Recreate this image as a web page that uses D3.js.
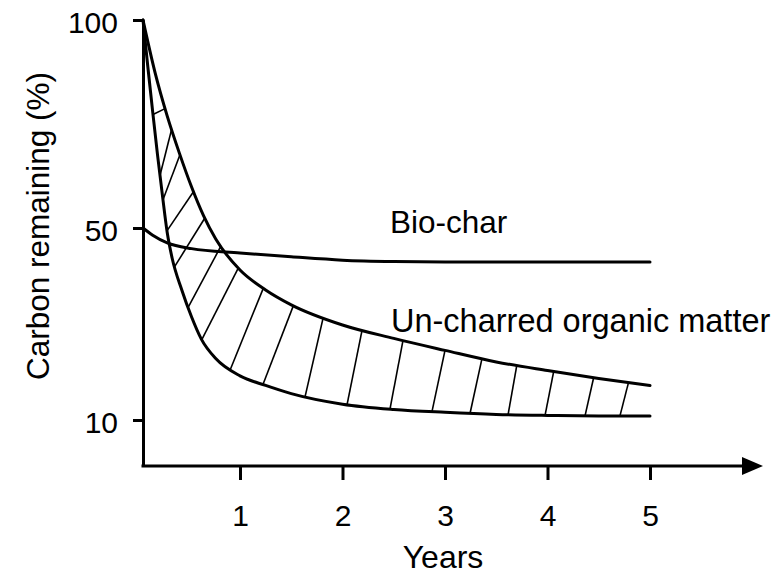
<!DOCTYPE html>
<html>
<head>
<meta charset="utf-8">
<script src="https://cdn.jsdelivr.net/npm/d3@7"></script>
<style>
  body { margin: 0; background: #fff; }
  text { font-family: "Liberation Sans", Arial, Helvetica, sans-serif; fill: #000; }
</style>
</head>
<body>
<script>
// values (years, % carbon remaining)
const upperYears = [0, 0.125, 0.25, 0.375, 0.5, 0.625, 0.75, 1, 1.25, 1.5, 2, 2.5, 3, 3.5, 4, 4.5, 5];
const upperValues = [100, 87.3, 76.9, 68.0, 59.9, 52.9, 47.7, 41.25, 37.1, 34.0, 29.8, 27.0, 24.5, 22.1, 20.3, 18.65, 17.2];

const lowerYears = [0, 0.05, 0.1, 0.15, 0.2, 0.25, 0.3, 0.4, 0.5, 0.6, 0.75, 1, 1.25, 1.5, 2, 2.5, 3, 3.5, 4, 4.5, 5];
const lowerValues = [100, 88.7, 77.9, 67.5, 57.9, 49.0, 43.75, 37.1, 31.5, 26.9, 22.8, 19.2, 17.2, 15.5, 13.3, 12.2, 11.6, 11.15, 10.95, 10.85, 10.85];

const charYears = [0, 0.1, 0.25, 0.5, 1, 1.5, 2, 2.5, 3, 4, 5];
const charValues = [50, 48.5, 46.9, 45.7, 44.8, 44.0, 43.3, 43.0, 42.9, 42.9, 42.9];

// hatching: each stroke runs from the lower curve to the upper curve
const hatchLowYears = [0.103, 0.175, 0.206, 0.247, 0.323, 0.464, 0.605, 0.897, 1.224, 1.634, 2.044, 2.463, 2.873, 3.244, 3.615, 3.976, 4.366, 4.707];
const hatchHighYears = [0.227, 0.294, 0.381, 0.52, 0.636, 0.8, 0.982, 1.227, 1.52, 1.81, 2.19, 2.59, 3.0, 3.36, 3.7, 4.06, 4.45, 4.79];

const xTicks = [1, 2, 3, 4, 5];
const yTicks = [10, 50, 100];
const xTitle = "Years";
const yTitle = "Carbon remaining (%)";
const charLabel = "Bio-char";
const organicLabel = "Un-charred organic matter";

(function app() {
  const W = 778, H = 576;

  let svg = d3.select("body").append("svg")
    .attr("width", W)
    .attr("height", H);

  // the sketch is not evenly spaced, so both scales are piecewise
  let x = d3.scaleLinear().domain([0, 1, 5]).range([143, 240, 650]);
  let y = d3.scaleLinear().domain([0, 10, 50, 100]).range([466, 420, 228, 20]);

  let line = d3.line()
    .x(d => x(d[0]))
    .y(d => y(d[1]))
    .curve(d3.curveMonotoneX);

  let hatchG = svg.append("g").attr("class", "hatch");
  let curves = svg.append("g").attr("class", "curves");

  let upper = curves.append("path")
    .attr("d", line(upperYears.map((t, i) => [t, upperValues[i]])));
  let lower = curves.append("path")
    .attr("d", line(lowerYears.map((t, i) => [t, lowerValues[i]])));
  curves.append("path")
    .attr("d", line(charYears.map((t, i) => [t, charValues[i]])));

  curves.selectAll("path")
    .attr("fill", "none")
    .attr("stroke", "#000")
    .attr("stroke-width", 3)
    .attr("stroke-linecap", "round");

  // find the y of a path at a given x
  function yOnPath(node, px) {
    let lo = 0, hi = node.getTotalLength();
    for (let i = 0; i < 40; i++) {
      let mid = (lo + hi) / 2;
      if (node.getPointAtLength(mid).x < px) lo = mid;
      else hi = mid;
    }
    return node.getPointAtLength((lo + hi) / 2).y;
  }

  hatchG.selectAll("line")
    .data(hatchLowYears)
    .enter()
    .append("line")
    .attr("x1", d => x(d))
    .attr("y1", d => yOnPath(lower.node(), x(d)))
    .attr("x2", (d, i) => x(hatchHighYears[i]))
    .attr("y2", (d, i) => yOnPath(upper.node(), x(hatchHighYears[i])))
    .attr("stroke", "#000")
    .attr("stroke-width", 1.6);

  // axes
  let xAxis = d3.axisBottom(x)
    .tickValues(xTicks)
    .tickFormat(d3.format("d"))
    .tickSizeInner(14)
    .tickSizeOuter(0)
    .tickPadding(25);
  let gx = svg.append("g")
    .attr("class", "axis x")
    .attr("transform", `translate(0,${y(0)})`)
    .call(xAxis);
  gx.select(".domain").remove();
  gx.selectAll(".tick line").attr("stroke-width", 3);
  gx.selectAll(".tick text").attr("font-size", 30).attr("font-family", null);

  gx.append("line")
    .attr("x1", x(0) - 1.5)
    .attr("x2", 744)
    .attr("y1", 0)
    .attr("y2", 0)
    .attr("stroke", "#000")
    .attr("stroke-width", 3);
  gx.append("path")
    .attr("d", "M742,-9L763,0L742,9Z")
    .attr("fill", "#000");

  let yAxis = d3.axisLeft(y)
    .tickValues(yTicks)
    .tickSizeInner(10)
    .tickSizeOuter(0)
    .tickPadding(15);
  let gy = svg.append("g")
    .attr("class", "axis y")
    .attr("transform", `translate(${x(0)},0)`)
    .call(yAxis);
  gy.select(".domain").attr("stroke-width", 3);
  gy.selectAll(".tick line").attr("stroke-width", 3);
  gy.selectAll(".tick text")
    .attr("font-size", 30)
    .attr("font-family", null)
    .attr("dy", "0.42em");

  // titles and curve labels
  svg.append("text")
    .attr("x", 443)
    .attr("y", 568)
    .attr("text-anchor", "middle")
    .attr("font-size", 32)
    .text(xTitle);

  svg.append("text")
    .attr("transform", "translate(49,226) rotate(-90)")
    .attr("text-anchor", "middle")
    .attr("font-size", 31.5)
    .text(yTitle);

  svg.append("text")
    .attr("x", 390)
    .attr("y", 233)
    .attr("font-size", 31.5)
    .text(charLabel);

  svg.append("text")
    .attr("x", 391)
    .attr("y", 332)
    .attr("font-size", 32.5)
    .text(organicLabel);
})();
</script>
</body>
</html>
